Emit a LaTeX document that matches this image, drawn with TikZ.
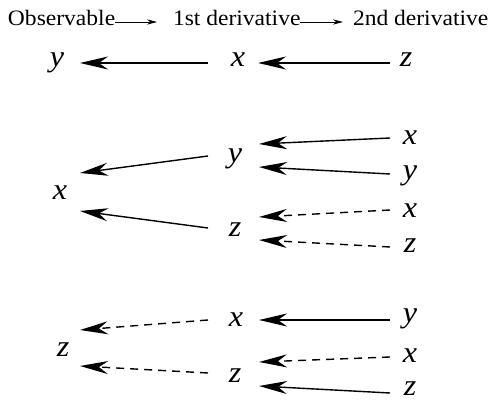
\documentclass[tikz,border=0pt]{standalone}
\usepackage{fontspec}
\setmainfont{Liberation Serif}[FakeStretch=1.07, ItalicFont={Liberation Serif Italic}]
\usetikzlibrary{arrows.meta}
\begin{document}
\begin{tikzpicture}[x=0.5pt, y=-0.5pt,
  >={Stealth[length=14pt, width=6.5pt, inset=4.5pt]},
  var/.style={inner sep=0pt, outer sep=0pt, anchor=base, font=\fontsize{15}{17}\selectfont\itshape},
  hdr/.style={inner sep=0pt, outer sep=0pt, anchor=base west, font=\fontsize{11}{13}\selectfont},
  link/.style={->, line width=0.7pt},
  dlink/.style={link, dash pattern=on 4pt off 3pt}]
\useasboundingbox (0,0) rectangle (492,400);
% Header
\node[hdr] (obs) at (8,26) {Observable};
\node[hdr] (first) at (173,26) {1st derivative};
\node[hdr] (second) at (353,26) {2nd derivative};
\draw[-{Stealth[length=5pt, width=2.6pt]}, line width=0.4pt] ([shift={(0,-4)}]obs.base east) -- ([shift={(-16,-4)}]first.base west);
\draw[-{Stealth[length=5pt, width=2.6pt]}, line width=0.4pt] ([shift={(0,-4)}]first.base east) -- ([shift={(-10,-4)}]second.base west);
% Row 1
\node[var] (y0) at (57,67) {y};
\node[var] (x0) at (238,67) {x};
\node[var] (z0) at (406,67) {z};
\draw[link] ([shift={(-16,-4)}]z0.base) -- ([shift={(20,-4)}]x0.base);
\draw[link] ([shift={(-30,-4)}]x0.base) -- ([shift={(23,-4)}]y0.base);
% Group 2
\node[var] (lx) at (60,200) {x};
\node[var] (my) at (235,163) {y};
\node[var] (mz) at (235,237) {z};
\node[var] (rx1) at (410,145) {x};
\node[var] (ry) at (410,180) {y};
\node[var] (rx2) at (410,218) {x};
\node[var] (rz) at (410,253) {z};
\draw[link] ([shift={(-27,-7)}]my.base) -- ([shift={(20,-27)}]lx.base);
\draw[link] ([shift={(-27,-9)}]mz.base) -- ([shift={(20,11)}]lx.base);
\draw[link] ([shift={(-20,-7)}]rx1.base) -- ([shift={(24,-19)}]my.base);
\draw[link] ([shift={(-20,-6)}]ry.base) -- ([shift={(24,4)}]my.base);
\draw[dlink] ([shift={(-20,-8)}]rx2.base) -- ([shift={(24,-20)}]mz.base);
\draw[dlink] ([shift={(-20,-6)}]rz.base) -- ([shift={(24,3)}]mz.base);
% Group 3
\node[var] (lz) at (63,357) {z};
\node[var] (mx3) at (236,327) {x};
\node[var] (mz3) at (235,382) {z};
\node[var] (ry3) at (410,322) {y};
\node[var] (rx3) at (410,363) {x};
\node[var] (rz3) at (410,395) {z};
\draw[dlink] ([shift={(-28,-7)}]mx3.base) -- ([shift={(17,-27)}]lz.base);
\draw[dlink] ([shift={(-27,-9)}]mz3.base) -- ([shift={(17,9)}]lz.base);
\draw[link] ([shift={(-20,-2)}]ry3.base) -- ([shift={(23,-7)}]mx3.base);
\draw[dlink] ([shift={(-20,-6)}]rx3.base) -- ([shift={(24,-20)}]mz3.base);
\draw[link] ([shift={(-20,-2)}]rz3.base) -- ([shift={(24,4)}]mz3.base);
\end{tikzpicture}
\end{document}
